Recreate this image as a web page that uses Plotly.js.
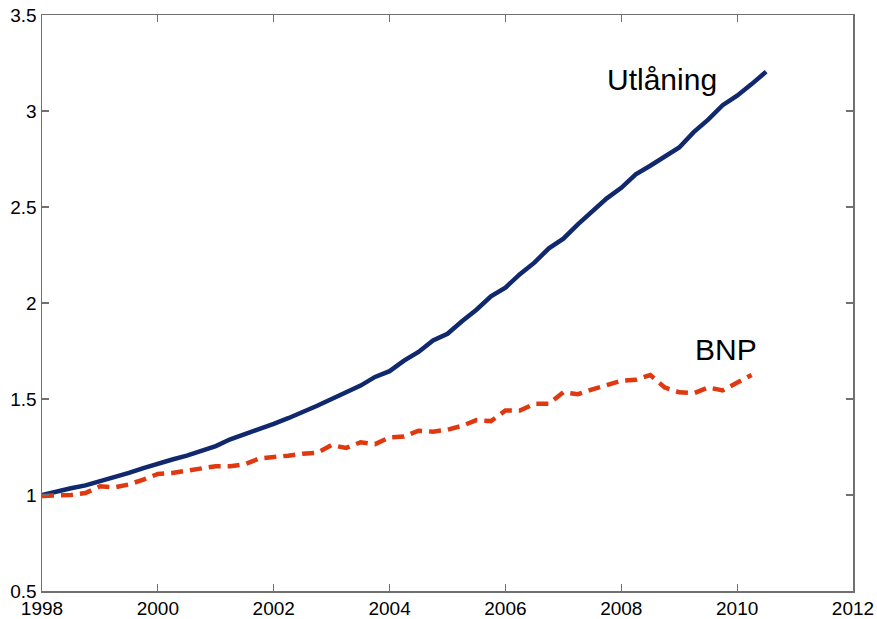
<!DOCTYPE html>
<html>
<head>
<meta charset="utf-8">
<script src="https://cdn.plot.ly/plotly-3.0.1.min.js"></script>
<style>html,body{margin:0;padding:0;background:#fff;}#chart{width:877px;height:619px;}</style>
</head>
<body>
<div id="chart"></div>
<script>
// Quarterly time axis
const quartersUtl = [1998.00,1998.25,1998.50,1998.75,1999.00,1999.25,1999.50,1999.75,2000.00,2000.25,2000.50,2000.75,2001.00,2001.25,2001.50,2001.75,2002.00,2002.25,2002.50,2002.75,2003.00,2003.25,2003.50,2003.75,2004.00,2004.25,2004.50,2004.75,2005.00,2005.25,2005.50,2005.75,2006.00,2006.25,2006.50,2006.75,2007.00,2007.25,2007.50,2007.75,2008.00,2008.25,2008.50,2008.75,2009.00,2009.25,2009.50,2009.75,2010.00,2010.25,2010.50];
const utlaning = [1.000,1.020,1.035,1.050,1.070,1.095,1.115,1.140,1.165,1.185,1.205,1.230,1.255,1.290,1.315,1.345,1.370,1.400,1.430,1.465,1.500,1.535,1.570,1.615,1.645,1.700,1.745,1.805,1.840,1.905,1.965,2.035,2.080,2.150,2.210,2.285,2.335,2.410,2.475,2.545,2.600,2.670,2.715,2.760,2.810,2.890,2.955,3.030,3.080,3.140,3.205];
const quartersBnp = [1998.00,1998.25,1998.50,1998.75,1999.00,1999.25,1999.50,1999.75,2000.00,2000.25,2000.50,2000.75,2001.00,2001.25,2001.50,2001.75,2002.00,2002.25,2002.50,2002.75,2003.00,2003.25,2003.50,2003.75,2004.00,2004.25,2004.50,2004.75,2005.00,2005.25,2005.50,2005.75,2006.00,2006.25,2006.50,2006.75,2007.00,2007.25,2007.50,2007.75,2008.00,2008.25,2008.50,2008.75,2009.00,2009.25,2009.50,2009.75,2010.00,2010.25];
const bnp = [0.995,0.995,1.000,1.010,1.045,1.040,1.055,1.080,1.110,1.115,1.125,1.135,1.150,1.150,1.160,1.190,1.195,1.205,1.215,1.220,1.260,1.245,1.275,1.265,1.300,1.305,1.335,1.330,1.340,1.360,1.390,1.385,1.440,1.440,1.475,1.475,1.535,1.525,1.550,1.575,1.595,1.600,1.625,1.560,1.535,1.530,1.560,1.545,1.585,1.625];
const xTicks = [1998,2000,2002,2004,2006,2008,2010,2012];
const xTickText = ["1998","2000","2002","2004","2006","2008","2010","2012"];
const yTicks = [0.5,1,1.5,2,2.5,3,3.5];
const yTickText = ["0.5","1","1.5","2","2.5","3","3.5"];
const seriesNames = ["Utlåning","BNP"];

const traces = [
  {x: quartersUtl, y: utlaning, name: seriesNames[0], type: 'scatter', mode: 'lines',
   line: {color: '#10286e', width: 4.5}},
  {x: quartersBnp, y: bnp, name: seriesNames[1], type: 'scatter', mode: 'lines',
   line: {color: '#e0380f', width: 4.5, dash: '12px,7px'}}
];

const axisCommon = {
  showgrid: false, zeroline: false, showline: true, linecolor: '#707070', linewidth: 1.5,
  mirror: 'allticks', ticks: 'inside', ticklen: 7, tickcolor: '#707070', tickwidth: 1.2,
  tickfont: {family: 'Liberation Sans, Arial, sans-serif', size: 19, color: '#000'}
};

const layout = {
  width: 877, height: 619,
  margin: {l: 41.5, r: 24, t: 15, b: 28},
  paper_bgcolor: '#fff', plot_bgcolor: '#fff',
  showlegend: false,
  xaxis: Object.assign({}, axisCommon, {range: [1998, 2012], tickvals: xTicks, ticktext: xTickText, ticklabelstandoff: 0}),
  yaxis: Object.assign({}, axisCommon, {range: [0.5, 3.5], tickvals: yTicks, ticktext: yTickText, ticklabelstandoff: 0}),
  annotations: [
    {x: 2008.71, y: 3.165, xref: 'x', yref: 'y', text: seriesNames[0], showarrow: false,
     font: {family: 'Liberation Sans, Arial, sans-serif', size: 30, color: '#000'}, xanchor: 'center', yanchor: 'middle'},
    {x: 2009.81, y: 1.76, xref: 'x', yref: 'y', text: seriesNames[1], showarrow: false,
     font: {family: 'Liberation Sans, Arial, sans-serif', size: 30, color: '#000'}, xanchor: 'center', yanchor: 'middle'}
  ]
};

Plotly.newPlot('chart', traces, layout, {displayModeBar: false, staticPlot: true});
</script>
</body>
</html>
